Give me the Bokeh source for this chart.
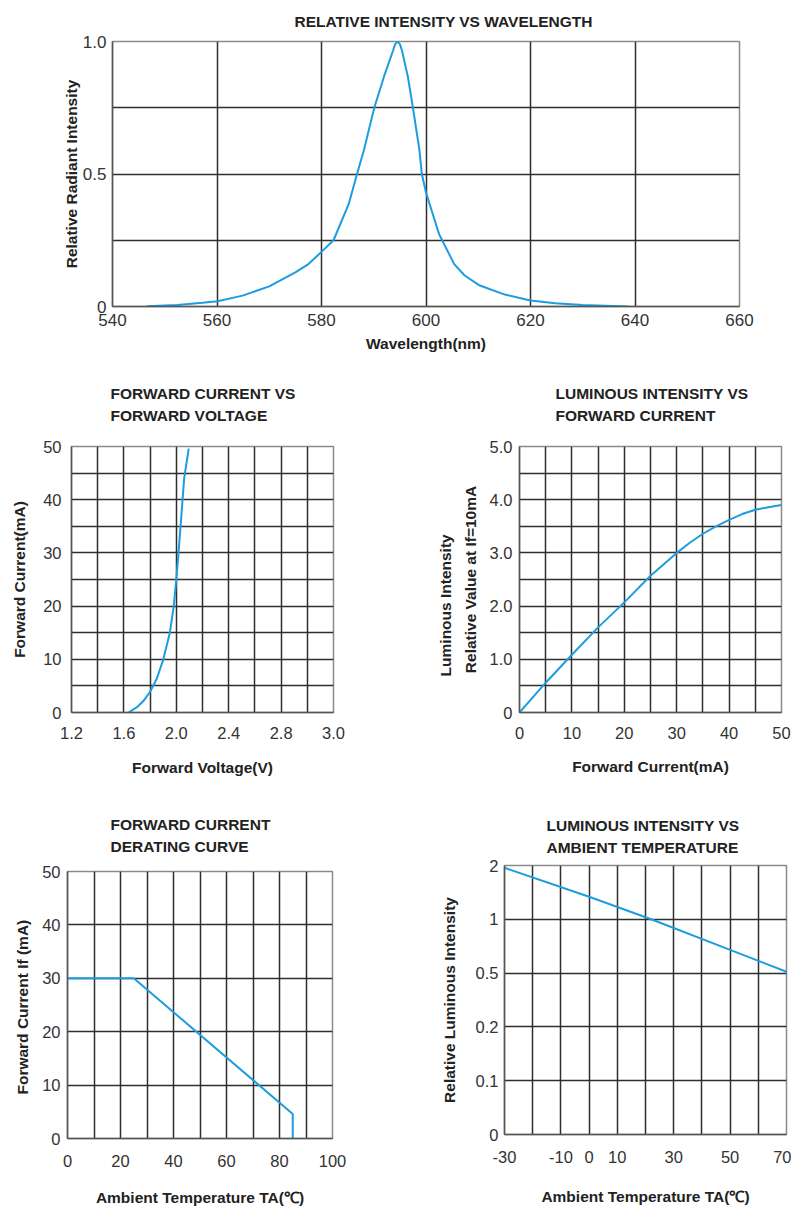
import numpy as np
from bokeh.plotting import figure
from bokeh.layouts import column, row
from bokeh.models import FixedTicker, Title, LinearAxis, Range1d
from bokeh.embed import file_html
from bokeh.resources import INLINE

# ---------------- data ----------------
# Chart 1: relative intensity vs wavelength
wavelength = [546.6, 552.4, 557.2, 560.1, 564.9, 570.0, 575.0, 577.5, 580.1, 582.3, 585.2, 586.8,
              588.1, 590.1, 592.0, 593.7, 594.1, 594.6, 595.0, 595.4, 596.5, 597.5, 598.75, 599.2,
              600.0, 602.5, 605.4, 607.4, 610.3, 615.1, 620.0, 624.7, 630.0, 638.7]
rel_intensity = [0.001, 0.006, 0.014, 0.020, 0.041, 0.076, 0.129, 0.160, 0.208, 0.250, 0.386, 0.500,
                 0.589, 0.750, 0.870, 0.966, 0.990, 1.000, 0.990, 0.966, 0.870, 0.750, 0.589, 0.500,
                 0.430, 0.273, 0.160, 0.117, 0.079, 0.045, 0.023, 0.0125, 0.006, 0.0]
wl_ticks = [540, 560, 580, 600, 620, 640, 660]
ri_ticks = [0, 0.5, 1.0]
ri_tick_labels = ["0", "0.5", "1.0"]

# Chart 2: forward current vs forward voltage
fwd_voltage = [1.636, 1.70, 1.75, 1.80, 1.85, 1.90, 1.95, 1.98, 2.00, 2.02, 2.04, 2.06, 2.095]
fwd_current = [0.0, 1.0, 2.2, 3.9, 6.3, 9.9, 14.9, 19.9, 25.0, 31.0, 37.4, 44.0, 49.6]
v_ticks = [1.2, 1.6, 2.0, 2.4, 2.8, 3.2]
v_tick_labels = ["1.2", "1.6", "2.0", "2.4", "2.8", "3.0"]
i_ticks = [0, 10, 20, 30, 40, 50]

# Chart 3: luminous intensity vs forward current
if_ma = [0, 5, 10, 15, 20, 25, 30, 32.5, 35, 37.5, 40, 42.5, 45, 47.5, 50]
lum_rel = [0.0, 0.56, 1.085, 1.60, 2.07, 2.57, 3.00, 3.19, 3.36, 3.50, 3.62, 3.73, 3.81, 3.86, 3.90]
if_ticks = [0, 10, 20, 30, 40, 50]
lum_ticks = [0, 1, 2, 3, 4, 5]
lum_tick_labels = ["0", "1.0", "2.0", "3.0", "4.0", "5.0"]

# Chart 4: derating curve
amb_temp = [0, 25, 85, 85]
max_if = [30, 30, 4.6, 0]
ta_ticks = [0, 20, 40, 60, 80, 100]

# Chart 5: luminous intensity vs ambient temperature
temp5 = [-30, 0, 22, 50, 70]
lum5 = [1.957, 1.42, 1.0, 0.716, 0.5125]
lum5_tick_values = [0, 0.1, 0.2, 0.5, 1, 2]
lum5_tick_labels = ["0", "0.1", "0.2", "0.5", "1", "2"]
temp5_ticks = [-30, -10, 0, 10, 30, 50, 70]
temp5_tick_labels = ["-30", "-10", "0", "10", "30", "50", "70"]

# ---------------- style ----------------
FONT = "Liberation Sans"
BLUE = "#1b9ddf"
GRID = "#2e2e2e"
NBSP = "\u00a0"


def base(fw, fh, bl, br, bt, bb, xr, yr):
    p = figure(frame_width=fw, frame_height=fh, min_border_left=bl, min_border_right=br,
               min_border_top=bt, min_border_bottom=bb, x_range=xr, y_range=yr,
               output_backend="svg", toolbar_location=None)
    p.background_fill_color = "white"
    p.border_fill_color = "white"
    p.outline_line_color = "#8a8a8a"
    p.outline_line_width = 1.5
    for ax in (p.xaxis[0], p.yaxis[0]):
        ax.axis_line_color = "#555555"
        ax.axis_line_width = 1.5
        ax.major_tick_line_color = None
        ax.minor_tick_line_color = None
        ax.major_label_text_font = FONT
        ax.major_label_text_font_size = "16.5px"
        ax.major_label_text_color = "#333333"
        ax.axis_label_text_font = FONT
        ax.axis_label_text_font_style = "bold"
        ax.axis_label_text_font_size = "15.5px"
        ax.axis_label_text_color = "#222222"
    for g in (p.xgrid[0], p.ygrid[0]):
        g.grid_line_color = GRID
        g.grid_line_width = 1.5
        g.grid_line_alpha = 1.0
    return p


def set_standoffs(p, xt, xl, yt, yl):
    p.xaxis.major_label_standoff = xt
    p.xaxis.axis_label_standoff = xl
    p.yaxis.major_label_standoff = yt
    p.yaxis.axis_label_standoff = yl


def add_title(p, text, offset, standoff, valign="bottom", size="15.5px"):
    p.add_layout(Title(text=text, align="left", offset=offset, text_font=FONT,
                       text_font_style="bold", text_font_size=size, text_line_height=1.3,
                       vertical_align=valign, text_color="#222222", standoff=standoff), "above")


# Chart 1
p1 = base(627, 265, 112, 44, 41, 50, (540, 660), (0, 1.0))
p1.xaxis.ticker = FixedTicker(ticks=wl_ticks)
p1.yaxis.ticker = FixedTicker(ticks=ri_ticks)
p1.yaxis.major_label_overrides = dict(zip(ri_ticks, ri_tick_labels))
p1.xgrid.ticker = FixedTicker(ticks=wl_ticks)
p1.ygrid.ticker = FixedTicker(ticks=[0, 0.25, 0.5, 0.75, 1.0])
p1.xaxis.axis_label = "Wavelength(nm)"
p1.yaxis.axis_label = "Relative Radiant Intensity"
p1.xaxis.major_label_text_font_size = "17px"
p1.yaxis.major_label_text_font_size = "17px"
set_standoffs(p1, 1, 6, 0, 0)
p1.line(wavelength, rel_intensity, line_color=BLUE, line_width=2)
add_title(p1, "RELATIVE INTENSITY VS WAVELENGTH", 182, 20, valign="top", size="15.5px")

# Chart 2
p2 = base(262, 266, 71, 67, 90, 66, (1.2, 3.2), (0, 50))
p2.xaxis.ticker = FixedTicker(ticks=v_ticks)
p2.xaxis.major_label_overrides = dict(zip(v_ticks, v_tick_labels))
p2.yaxis.ticker = FixedTicker(ticks=i_ticks)
p2.xgrid.ticker = FixedTicker(ticks=[round(1.2 + 0.2 * i, 1) for i in range(11)])
p2.ygrid.ticker = FixedTicker(ticks=list(range(0, 51, 5)))
p2.xaxis.axis_label = "Forward Voltage(V)"
p2.yaxis.axis_label = "Forward Current(mA)"
set_standoffs(p2, 8, 17, 4, 12)
p2.line(fwd_voltage, fwd_current, line_color=BLUE, line_width=2)
add_title(p2, "FORWARD CURRENT VS\nFORWARD VOLTAGE", 39, 44)

# Chart 3
p3 = base(262, 266, 119, 10, 90, 66, (0, 50), (0, 5))
p3.xaxis.ticker = FixedTicker(ticks=if_ticks)
p3.yaxis.ticker = FixedTicker(ticks=lum_ticks)
p3.yaxis.major_label_overrides = dict(zip(lum_ticks, lum_tick_labels))
p3.xgrid.ticker = FixedTicker(ticks=list(range(0, 51, 5)))
p3.ygrid.ticker = FixedTicker(ticks=[0.5 * i for i in range(11)])
p3.xaxis.axis_label = "Forward Current(mA)"
p3.yaxis.axis_label = "Relative Value at If=10mA"
set_standoffs(p3, 8, 16, 1, 8)
p3.extra_y_ranges = {"lbl": Range1d(0, 5)}
ax2 = LinearAxis(y_range_name="lbl", ticker=FixedTicker(ticks=[]),
                 axis_label="Luminous Intensity" + NBSP * 12, axis_line_color=None,
                 major_tick_line_color=None, minor_tick_line_color=None,
                 major_label_standoff=0, axis_label_standoff=5,
                 axis_label_text_font=FONT, axis_label_text_font_style="bold",
                 axis_label_text_font_size="15.5px", axis_label_text_color="#222222")
p3.add_layout(ax2, "left")
p3.line(if_ma, lum_rel, line_color=BLUE, line_width=2)
add_title(p3, "LUMINOUS INTENSITY  VS\nFORWARD CURRENT", 36, 44)

# Chart 4
p4 = base(265, 267, 67, 68, 93, 69, (0, 100), (0, 50))
p4.xaxis.ticker = FixedTicker(ticks=ta_ticks)
p4.yaxis.ticker = FixedTicker(ticks=i_ticks)
p4.xgrid.ticker = FixedTicker(ticks=list(range(0, 101, 10)))
p4.ygrid.ticker = FixedTicker(ticks=list(range(0, 51, 10)))
p4.xaxis.axis_label = "Ambient Temperature TA(℃)"
p4.yaxis.axis_label = "Forward Current  If (mA)"
set_standoffs(p4, 10, 19, 1, 8)
p4.line(amb_temp, max_if, line_color=BLUE, line_width=2)
add_title(p4, "FORWARD CURRENT\nDERATING CURVE", 43, 32)

# Chart 5 (non-uniform value scale: equal spacing between labelled values)
pos_ticks = list(range(len(lum5_tick_values)))
lum5_pos = np.interp(lum5, lum5_tick_values, pos_ticks)
p5 = base(282, 269, 104, 5, 87, 73, (-30, 70), (0, 5))
p5.xaxis.ticker = FixedTicker(ticks=temp5_ticks)
p5.xaxis.major_label_overrides = dict(zip(temp5_ticks, temp5_tick_labels))
p5.yaxis.ticker = FixedTicker(ticks=pos_ticks)
p5.yaxis.major_label_overrides = dict(zip(pos_ticks, lum5_tick_labels))
p5.xgrid.ticker = FixedTicker(ticks=list(range(-30, 71, 10)))
p5.ygrid.ticker = FixedTicker(ticks=pos_ticks)
p5.xaxis.axis_label = "Ambient Temperature TA(℃)"
p5.yaxis.axis_label = "Relative Luminous Intensity"
set_standoffs(p5, 10, 22, 0, 15)
p5.line(temp5, lum5_pos, line_color=BLUE, line_width=2)
add_title(p5, "LUMINOUS INTENSITY VS\nAMBIENT TEMPERATURE", 42, 18)

layout = column(p1, row(column(p2), column(p3)), row(column(p4), column(p5)))
open("out.html", "w").write(file_html(layout, INLINE))
